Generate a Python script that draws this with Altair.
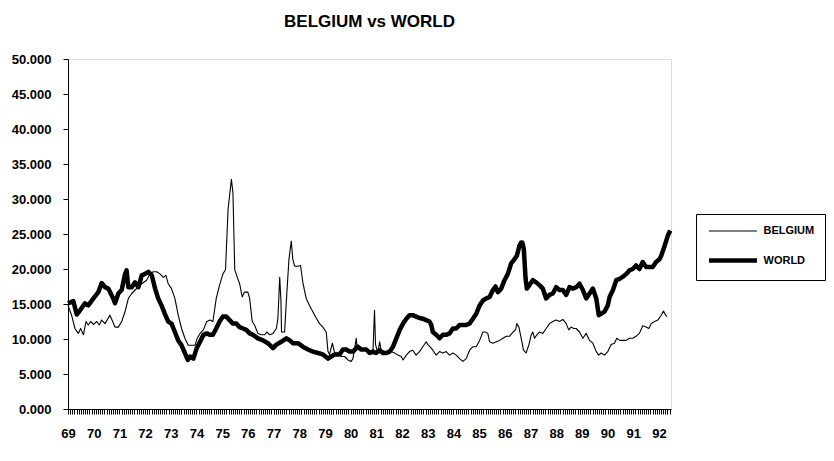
import altair as alt
import pandas as pd

TITLE = "BELGIUM vs WORLD"
SERIES = ["BELGIUM", "WORLD"]
YEARS = list(range(1969, 1993))
Y_TICKS = [0, 5, 10, 15, 20, 25, 30, 35, 40, 45, 50]

BEL_T = [1969.00, 1969.14, 1969.27, 1969.40, 1969.49, 1969.60, 1969.70, 1969.79, 1969.88, 1969.99,
         1970.12, 1970.22, 1970.31, 1970.44, 1970.63, 1970.74, 1970.83, 1970.96, 1971.09, 1971.22,
         1971.35, 1971.48, 1971.61, 1971.74, 1971.87, 1972.06, 1972.19, 1972.32, 1972.45, 1972.58,
         1972.71, 1972.81, 1972.90, 1973.03, 1973.16, 1973.29, 1973.42, 1973.55, 1973.68, 1973.81,
         1973.94, 1974.03, 1974.14, 1974.27, 1974.40, 1974.53, 1974.64, 1974.77, 1974.90, 1975.03,
         1975.13, 1975.23, 1975.36, 1975.42, 1975.49, 1975.58, 1975.68, 1975.78, 1975.87, 1976.00,
         1976.07, 1976.17, 1976.26, 1976.39, 1976.52, 1976.65, 1976.74, 1976.85, 1976.98, 1977.11,
         1977.17, 1977.24, 1977.29, 1977.31, 1977.43, 1977.52, 1977.60, 1977.69, 1977.75, 1977.82,
         1977.95, 1978.05, 1978.14, 1978.27, 1978.40, 1978.53, 1978.66, 1978.79, 1978.92, 1979.05,
         1979.12, 1979.18, 1979.29, 1979.38, 1979.51, 1979.64, 1979.77, 1979.90, 1980.02, 1980.09,
         1980.22, 1980.26, 1980.41, 1980.54, 1980.67, 1980.74, 1980.87, 1980.93, 1980.97, 1981.06,
         1981.13, 1981.19, 1981.32, 1981.45, 1981.58, 1981.71, 1981.84, 1981.97, 1982.04, 1982.17,
         1982.29, 1982.42, 1982.55, 1982.68, 1982.81, 1982.94, 1983.01, 1983.14, 1983.20, 1983.33,
         1983.46, 1983.59, 1983.72, 1983.85, 1983.98, 1984.11, 1984.24, 1984.37, 1984.50, 1984.63,
         1984.76, 1984.89, 1985.02, 1985.15, 1985.25, 1985.34, 1985.41, 1985.54, 1985.67, 1985.80,
         1985.93, 1986.06, 1986.19, 1986.32, 1986.42, 1986.47, 1986.55, 1986.64, 1986.73, 1986.83,
         1986.94, 1987.03, 1987.09, 1987.16, 1987.25, 1987.35, 1987.48, 1987.61, 1987.74, 1987.87,
         1988.00, 1988.13, 1988.26, 1988.39, 1988.49, 1988.58, 1988.69, 1988.78, 1988.91, 1989.04,
         1989.17, 1989.30, 1989.43, 1989.56, 1989.66, 1989.75, 1989.88, 1990.01, 1990.14, 1990.27,
         1990.36, 1990.47, 1990.60, 1990.73, 1990.85, 1990.98, 1991.11, 1991.24, 1991.37, 1991.50,
         1991.61, 1991.70, 1991.83, 1991.96, 1992.09, 1992.18, 1992.26, 1992.32]
BEL_V = [14.8, 13.4, 11.5, 10.8, 11.5, 10.6, 12.5, 12.0, 12.5, 12.1,
         12.5, 12.0, 12.7, 12.2, 13.4, 12.5, 11.7, 11.7, 12.5, 13.9,
         15.8, 16.5, 17.0, 17.4, 17.9, 18.4, 19.3, 19.6, 19.6, 19.3,
         18.8, 19.1, 17.9, 17.2, 15.8, 13.4, 11.5, 10.1, 9.1, 9.1,
         9.1, 10.1, 10.8, 11.3, 12.5, 12.7, 12.5, 15.8, 17.7, 19.3,
         19.9, 28.5, 32.8, 30.9, 19.9, 18.9, 17.9, 16.0, 16.7, 16.7,
         15.8, 12.5, 12.0, 10.8, 10.6, 10.6, 11.0, 10.6, 10.8, 11.5,
         12.9, 18.8, 15.3, 11.0, 11.0, 16.7, 21.4, 24.0, 21.4, 20.4,
         20.4, 20.5, 18.1, 15.8, 14.8, 13.9, 13.0, 12.2, 11.7, 11.0,
         8.2, 7.8, 9.4, 8.0, 8.0, 7.5, 7.5, 7.0, 6.8, 7.2,
         10.1, 8.5, 8.7, 8.5, 8.2, 8.4, 8.2, 14.1, 9.2, 8.0,
         9.6, 8.4, 8.2, 8.2, 8.2, 8.0, 7.7, 7.5, 7.0, 7.7,
         8.2, 8.4, 7.7, 8.2, 8.9, 9.6, 9.2, 8.7, 8.4, 7.7,
         8.2, 8.0, 8.2, 7.7, 8.0, 7.7, 7.2, 6.8, 7.2, 8.4,
         8.9, 8.9, 9.8, 11.0, 11.0, 10.8, 9.6, 9.4, 9.6, 9.8,
         10.1, 10.4, 10.4, 11.0, 11.3, 12.2, 11.7, 10.1, 8.4, 8.0,
         9.2, 10.6, 11.0, 10.1, 10.6, 11.0, 10.8, 11.5, 12.2, 12.5,
         12.7, 12.5, 12.8, 12.2, 11.3, 11.7, 11.5, 11.5, 11.0, 10.1,
         10.8, 9.8, 9.4, 8.2, 7.7, 8.0, 7.7, 8.2, 9.2, 9.4,
         10.1, 9.8, 9.8, 9.8, 10.1, 10.1, 10.4, 10.8, 11.9, 11.7,
         11.5, 12.2, 12.5, 12.7, 13.4, 14.0, 13.4, 13.2]

WLD_T = [1969.00, 1969.21, 1969.34, 1969.47, 1969.66, 1969.79, 1969.99, 1970.18, 1970.31, 1970.44,
         1970.57, 1970.76, 1970.83, 1970.96, 1971.09, 1971.22, 1971.28, 1971.35, 1971.48, 1971.61,
         1971.74, 1971.87, 1972.00, 1972.13, 1972.26, 1972.39, 1972.51, 1972.64, 1972.77, 1972.90,
         1973.03, 1973.16, 1973.29, 1973.42, 1973.55, 1973.66, 1973.75, 1973.88, 1974.01, 1974.14,
         1974.27, 1974.40, 1974.53, 1974.64, 1974.77, 1974.90, 1975.03, 1975.16, 1975.29, 1975.42,
         1975.55, 1975.68, 1975.81, 1975.94, 1976.07, 1976.20, 1976.39, 1976.59, 1976.78, 1976.98,
         1977.11, 1977.30, 1977.50, 1977.63, 1977.75, 1977.95, 1978.14, 1978.34, 1978.53, 1978.73,
         1978.92, 1979.12, 1979.25, 1979.38, 1979.57, 1979.70, 1979.83, 1979.96, 1980.09, 1980.28,
         1980.41, 1980.61, 1980.74, 1980.87, 1980.99, 1981.13, 1981.26, 1981.39, 1981.52, 1981.65,
         1981.78, 1981.91, 1982.04, 1982.17, 1982.29, 1982.42, 1982.55, 1982.68, 1982.81, 1982.94,
         1983.07, 1983.14, 1983.20, 1983.33, 1983.46, 1983.59, 1983.72, 1983.85, 1983.98, 1984.11,
         1984.24, 1984.37, 1984.50, 1984.63, 1984.76, 1984.89, 1985.02, 1985.15, 1985.28, 1985.41,
         1985.54, 1985.64, 1985.73, 1985.86, 1985.99, 1986.12, 1986.25, 1986.38, 1986.47, 1986.57,
         1986.64, 1986.68, 1986.74, 1986.81, 1986.86, 1986.96, 1987.09, 1987.22, 1987.35, 1987.48,
         1987.61, 1987.74, 1987.87, 1988.00, 1988.13, 1988.26, 1988.39, 1988.52, 1988.65, 1988.78,
         1988.91, 1989.04, 1989.17, 1989.30, 1989.43, 1989.56, 1989.66, 1989.75, 1989.88, 1990.01,
         1990.08, 1990.21, 1990.34, 1990.47, 1990.60, 1990.73, 1990.85, 1990.98, 1991.11, 1991.24,
         1991.37, 1991.50, 1991.63, 1991.76, 1991.89, 1992.02, 1992.09, 1992.22, 1992.35, 1992.44]
WLD_V = [15.1, 15.4, 13.5, 14.1, 15.1, 14.8, 15.8, 16.7, 18.0, 17.4,
         17.2, 15.8, 15.1, 16.5, 17.0, 19.3, 19.8, 17.4, 17.4, 18.1,
         17.4, 19.1, 19.3, 19.6, 19.1, 17.2, 15.8, 14.8, 13.6, 12.5,
         12.2, 11.0, 9.8, 9.1, 8.0, 7.0, 7.5, 7.2, 8.7, 9.6,
         10.6, 10.8, 10.6, 10.6, 11.5, 12.5, 13.2, 13.2, 12.7, 12.2,
         12.2, 11.7, 11.5, 11.3, 10.8, 10.6, 10.1, 9.8, 9.4, 8.7,
         9.2, 9.6, 10.1, 9.8, 9.4, 9.4, 8.9, 8.5, 8.2, 8.0,
         7.8, 7.2, 7.5, 7.8, 7.8, 8.5, 8.5, 8.2, 8.2, 8.9,
         8.5, 8.5, 8.0, 8.2, 8.0, 8.4, 8.0, 8.0, 8.2, 8.9,
         10.1, 11.3, 12.2, 12.9, 13.4, 13.4, 13.2, 13.0, 12.9, 12.7,
         12.5, 12.0, 11.0, 10.6, 10.1, 10.6, 10.6, 10.8, 11.5, 11.5,
         12.0, 12.0, 12.0, 12.2, 12.9, 13.6, 14.8, 15.5, 15.8, 16.0,
         17.0, 17.5, 16.7, 17.2, 18.4, 19.3, 20.8, 21.4, 21.9, 23.3,
         23.8, 23.8, 22.9, 18.6, 17.2, 17.7, 18.4, 18.1, 17.7, 17.2,
         15.8, 16.3, 16.5, 17.4, 17.0, 17.0, 16.3, 17.4, 17.2, 17.4,
         17.9, 17.0, 15.8, 16.5, 17.2, 15.8, 13.4, 13.6, 13.9, 14.8,
         16.0, 17.0, 18.4, 18.6, 18.9, 19.3, 19.8, 20.0, 20.5, 20.0,
         21.0, 20.3, 20.3, 20.3, 21.0, 21.4, 21.9, 23.3, 24.8, 25.5]

FONT = "Liberation Sans, Arial, sans-serif"

rows = []
for t, v in zip(BEL_T, BEL_V):
    rows.append({"t": t, "v": v, "series": SERIES[0]})
for t, v in zip(WLD_T, WLD_V):
    rows.append({"t": t, "v": v, "series": SERIES[1]})
df = pd.DataFrame(rows)

# dense monthly ticks along the x axis, labels only on each January
month_ticks = [y + m / 12 for y in YEARS for m in range(12) if y + m / 12 <= 1992.46]

legend = alt.Legend(
    title=None, orient="none", legendX=628, legendY=155,
    strokeColor="black", padding=10, fillColor="white",
    symbolType="M-4,0H4", symbolSize=144, symbolOffset=18.5, labelOffset=22,
    rowPadding=15, labelFontSize=11, labelFontWeight="bold", labelColor="black",
    labelFont=FONT, symbolStrokeColor="black",
)

chart = alt.Chart(df).mark_line(strokeJoin="round", color="black").encode(
    x=alt.X("t:Q",
            scale=alt.Scale(domain=[1969.0, 1992.47], nice=False, zero=False),
            axis=alt.Axis(values=month_ticks, title=None, grid=False,
                          labelExpr="datum.value % 1 == 0 ? slice(toString(datum.value), 2) : ''",
                          labelOverlap=False, labelFlush=False, tickSize=5, labelPadding=13,
                          labelFontSize=13, labelFontWeight="bold", labelFont=FONT,
                          labelColor="black", tickColor="black", domainColor="black")),
    y=alt.Y("v:Q",
            scale=alt.Scale(domain=[0, 50], nice=False),
            axis=alt.Axis(values=Y_TICKS, format=".3f", title=None, grid=False,
                          tickSize=5, labelPadding=12, labelFontSize=13,
                          labelFontWeight="bold", labelFont=FONT, labelColor="black",
                          tickColor="black", domainColor="black")),
    color=alt.Color("series:N", scale=alt.Scale(domain=SERIES, range=["black", "black"]),
                    legend=legend),
    strokeWidth=alt.StrokeWidth("series:N", scale=alt.Scale(domain=SERIES, range=[1.1, 4.5]),
                                legend=legend),
).properties(
    width=603, height=350,
    title=alt.TitleParams(TITLE, fontSize=17, fontWeight="bold", font=FONT,
                          anchor="middle", offset=22, color="black"),
    padding={"left": 3, "top": 5, "right": 0, "bottom": 5},
).configure_view(stroke=None).configure(background="white")

chart.save("out.html", embed_options={"renderer": "svg", "actions": False})
